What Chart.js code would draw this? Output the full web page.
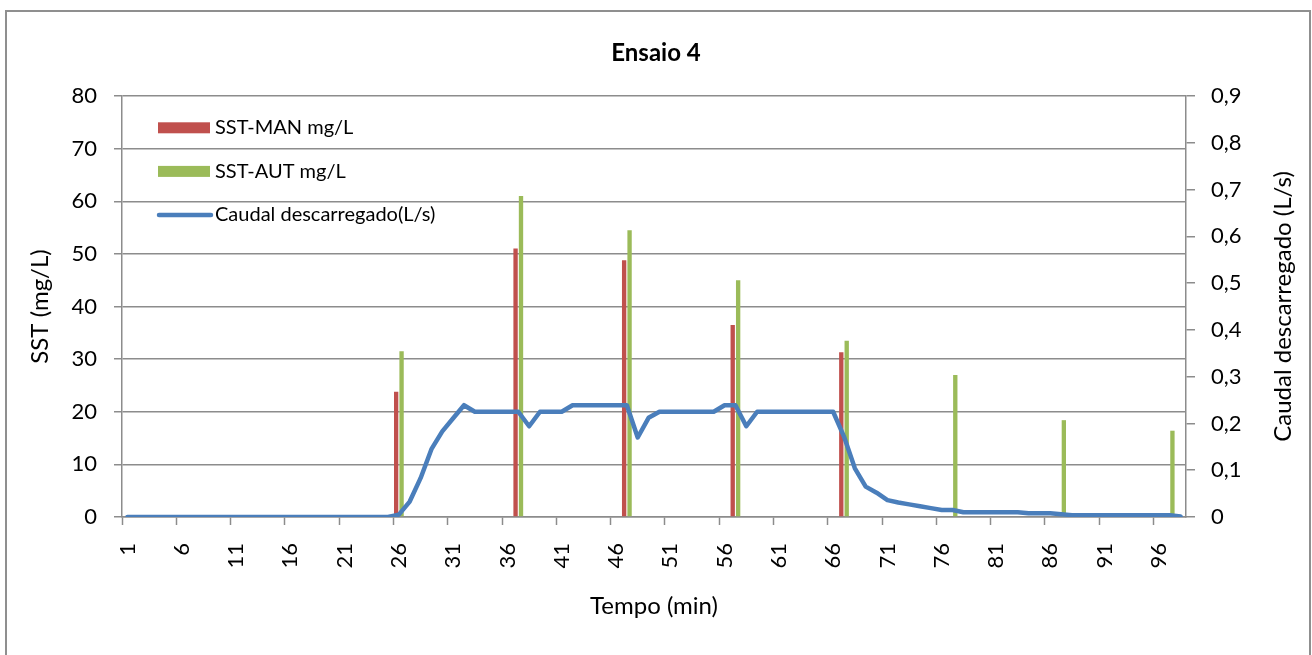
<!DOCTYPE html>
<html><head><meta charset="utf-8">
<script src="https://cdn.jsdelivr.net/npm/chart.js@4.4.1/dist/chart.umd.min.js"></script>
<style>
html,body{margin:0;padding:0;background:#fff;}
#wrap{position:relative;width:1312px;height:655px;overflow:hidden;background:#fff;}
#frame{position:absolute;left:5px;top:10px;width:1302px;height:660px;border:2px solid #8f8f8f;pointer-events:none;}
canvas{position:absolute;left:0;top:0;}
</style></head><body>
<div id="wrap"><canvas id="c" width="1312" height="655"></canvas><div id="frame"></div></div>
<script>
// ---- data ----
const categories = [
  1,2,3,4,5,6,7,8,9,10,
  11,12,13,14,15,16,17,18,19,20,
  21,22,23,24,25,26,27,28,29,30,
  31,32,33,34,35,36,37,38,39,40,
  41,42,43,44,45,46,47,48,49,50,
  51,52,53,54,55,56,57,58,59,60,
  61,62,63,64,65,66,67,68,69,70,
  71,72,73,74,75,76,77,78,79,80,
  81,82,83,84,85,86,87,88,89,90,
  91,92,93,94,95,96,97,98
];
const sampleTimes = [26, 37, 47, 57, 67, 77, 87, 97];
const sstMan = [23.8, 51, 48.8, 36.5, 31.3, null, null, null];
const sstAut = [31.5, 61, 54.5, 45, 33.5, 27, 18.4, 16.4];
const caudal = [
  0,0,0,0,0,0,0,0,0,0,
  0,0,0,0,0,0,0,0,0,0,
  0,0,0,0,0,0.005,0.033,0.083,0.145,0.183,
  0.211,0.239,0.225,0.225,0.225,0.225,0.225,0.194,0.225,0.225,
  0.225,0.239,0.239,0.239,0.239,0.239,0.239,0.170,0.212,0.225,
  0.225,0.225,0.225,0.225,0.225,0.239,0.239,0.194,0.225,0.225,
  0.225,0.225,0.225,0.225,0.225,0.225,0.172,0.104,0.065,0.052,
  0.036,0.031,0.027,0.023,0.019,0.015,0.015,0.010,0.010,0.010,
  0.010,0.010,0.010,0.008,0.008,0.008,0.006,0.004,0.004,0.004,
  0.004,0.004,0.004,0.004,0.004,0.004,0.004,0.001
];
const seriesLabels = ['SST-MAN mg/L', 'SST-AUT mg/L', 'Caudal descarregado(L/s)'];
const chartTitle = 'Ensaio 4';
const xTitle = 'Tempo (min)';
const yTitle = 'SST (mg/L)';
const y1Title = 'Caudal descarregado (L/s)';

// ---- build series ----
const manSeries = categories.map(c => { const k = sampleTimes.indexOf(c); return k < 0 ? null : sstMan[k]; });
const autSeries = categories.map(c => { const k = sampleTimes.indexOf(c); return k < 0 ? null : sstAut[k]; });

const FONT = 'Lato, "Open Sans", sans-serif';
const GRID = '#8c8c8c';

const insideLegend = {
  id: 'insideLegend',
  afterDraw(chart) {
    const { ctx, chartArea: a } = chart;
    const ds = chart.data.datasets;
    const items = [ds[1], ds[2], ds[0]];
    ctx.save();
    ctx.font = '20px ' + FONT;
    ctx.textBaseline = 'middle';
    ctx.textAlign = 'left';
    items.forEach((d, k) => {
      const y = a.top + 31.8 + k * 43.6;
      if (d.type === 'line') {
        ctx.strokeStyle = d.borderColor; ctx.lineWidth = 4.5; ctx.lineCap = 'round';
        ctx.beginPath(); ctx.moveTo(a.left + 37, y); ctx.lineTo(a.left + 89, y); ctx.stroke();
      } else {
        ctx.fillStyle = d.backgroundColor;
        ctx.fillRect(a.left + 36, y - 5.5, 52, 11);
      }
      ctx.fillStyle = '#000';
      ctx.fillText(d.label, a.left + 93, y);
    });
    ctx.restore();
  }
};

const rightTitle = {
  id: 'rightTitle',
  afterDraw(chart) {
    const { ctx, chartArea: a } = chart;
    const s = chart.scales.y1;
    ctx.save();
    ctx.translate(s.right - 29, (a.top + a.bottom) / 2);
    ctx.rotate(-Math.PI / 2);
    ctx.textAlign = 'center';
    ctx.textBaseline = 'middle';
    ctx.font = '24px ' + FONT;
    ctx.fillStyle = '#000';
    ctx.fillText(y1Title, 0, 0);
    ctx.restore();
  }
};

new Chart(document.getElementById('c'), {
  type: 'bar',
  data: {
    labels: categories,
    datasets: [
      { type: 'line', label: seriesLabels[2], data: caudal, yAxisID: 'y1', borderColor: '#4a7ebb',
        borderWidth: 4.5, pointRadius: 0, tension: 0, order: 0, borderJoinStyle: 'round', borderCapStyle: 'round', fill: false },
      { label: seriesLabels[0], data: manSeries, backgroundColor: '#c0504d', yAxisID: 'y', order: 1,
        categoryPercentage: 1, barPercentage: 0.8 },
      { label: seriesLabels[1], data: autSeries, backgroundColor: '#9bbb59', yAxisID: 'y', order: 1,
        categoryPercentage: 1, barPercentage: 0.8 }
    ]
  },
  options: {
    responsive: false, animation: false, devicePixelRatio: 1,
    layout: { padding: 0 },
    plugins: {
      legend: { display: false }, tooltip: { enabled: false },
      title: { display: true, text: chartTitle, color: '#000', font: { family: FONT, size: 24, weight: 'bold' },
               padding: { top: 38.6, bottom: 28.6 } }
    },
    scales: {
      x: {
        offset: true,
        grid: { offset: true, drawOnChartArea: false, drawTicks: true, tickLength: 8, tickWidth: 1.5,
                tickColor: c => (c.index !== undefined && c.index % 5 === 0 ? GRID : 'rgba(0,0,0,0)') },
        border: { display: true, color: GRID, width: 1.5 },
        ticks: { autoSkip: false, maxRotation: 90, minRotation: 90, padding: 18, color: '#000',
                 font: { family: FONT, size: 22 },
                 callback: (v, i) => (i % 5 === 0 ? String(categories[i]) : '') },
        title: { display: true, text: xTitle, color: '#000', font: { family: FONT, size: 24 }, padding: { top: 0, bottom: 34.6 } },
        afterFit: s => { s.height = 138; }
      },
      y: {
        position: 'left', min: 0, max: 80,
        ticks: { stepSize: 10, padding: 17, color: '#000', font: { family: FONT, size: 22 } },
        grid: { color: GRID, lineWidth: 1.5, tickLength: 8 },
        border: { display: true, color: GRID, width: 1.5 },
        title: { display: true, text: yTitle, color: '#000', font: { family: FONT, size: 24 }, padding: { top: 25.6, bottom: 0 } },
        afterFit: s => { s.width = 122; }
      },
      y1: {
        position: 'right', min: 0, max: 0.9,
        ticks: { stepSize: 0.1, padding: 16, color: '#000', font: { family: FONT, size: 22 },
                 callback: v => (Math.abs(v) < 1e-9 ? '0' : Number(v).toFixed(1).replace('.', ',')) },
        grid: { drawOnChartArea: false, color: GRID, lineWidth: 1.5, tickLength: 9 },
        border: { display: true, color: GRID, width: 1.5 },
        afterFit: s => { s.width = 126; }
      }
    }
  },
  plugins: [insideLegend, rightTitle]
});
</script>
</body></html>
